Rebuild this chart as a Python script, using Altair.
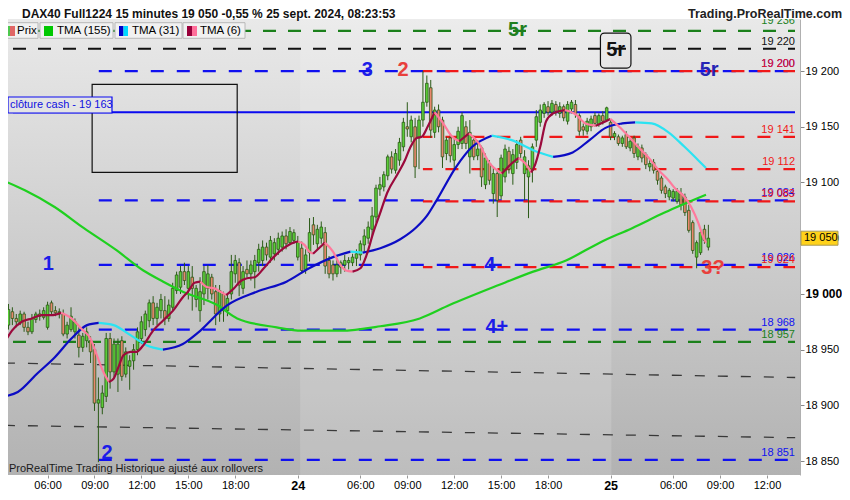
import altair as alt
import pandas as pd

FONT = "Liberation Sans"

# ---------------- candles: 15-minute bars, bar 0 = 23 Sept 03:30 ----------------
OPEN = [18972, 18984, 18978, 18974, 18982, 18970, 18966, 18977, 18982, 18979,
        18970, 18992, 18985, 18983, 18982, 18964, 18968, 18966, 18963, 18952,
        18958, 18958, 18950, 18902, 18898, 18908, 18960, 18930, 18928, 18958,
        18928, 18935, 18940, 18950, 18960, 18968, 18976, 18992, 18978, 18985,
        18985, 18978, 18988, 19003, 19006, 19020, 19005, 19015, 18995, 18985,
        19000, 19005, 19015, 19002, 18982, 19000, 18985, 19000, 19018, 19028,
        19005, 19022, 19018, 19020, 19028, 19030, 19042, 19033, 19036, 19040,
        19042, 19052, 19046, 19048,
        19033, 19041, 19022, 19037, 19062, 19045, 19050, 19055, 19030, 19026,
        19018, 19024, 19026, 19028, 19028, 19032, 19035, 19044, 19050, 19058,
        19069, 19094, 19096, 19106, 19123, 19111, 19120, 19132, 19150, 19141,
        19150, 19140, 19156, 19172, 19185, 19145, 19165, 19156, 19126, 19140,
        19120, 19134, 19135, 19150, 19123, 19138, 19124, 19131, 19098, 19117,
        19090, 19108, 19088, 19105, 19128, 19108, 19118, 19138, 19108, 19105,
        19111, 19138, 19154, 19162, 19168, 19163, 19170, 19162, 19168, 19155,
        19166, 19170, 19160, 19150, 19146, 19150, 19160, 19152, 19160, 19156,
        19154, 19141, 19141, 19135, 19143, 19131, 19140, 19123, 19131, 19125,
        19114, 19118, 19110, 19104, 19096, 19087, 19086, 19083, 19090, 19087,
        19075, 19064, 19033, 19037, 19058, 19042]
HIGH = [18991, 18988, 18982, 18985, 18984, 18975, 18982, 18984, 18986, 18988,
        18993, 18994, 18989, 18987, 18986, 18975, 18988, 18978, 18970, 18965,
        18970, 18962, 18955, 18925, 18918, 18965, 18965, 18960, 18960, 18962,
        18952, 18945, 18955, 18970, 18980, 18985, 18995, 18998, 18992, 19000,
        18998, 18995, 19010, 19020, 19025, 19028, 19025, 19025, 19008, 19015,
        19025, 19026, 19018, 19008, 19008, 19002, 19000, 19035, 19035, 19032,
        19025, 19030, 19030, 19035, 19045, 19048, 19046, 19052, 19050, 19055,
        19056, 19058, 19060, 19058,
        19052, 19047, 19040, 19068, 19069, 19062, 19065, 19060, 19034, 19030,
        19032, 19030, 19035, 19033, 19036, 19040, 19048, 19058, 19065, 19078,
        19098, 19105, 19110, 19125, 19128, 19130, 19140, 19158, 19172, 19160,
        19158, 19160, 19200, 19196, 19192, 19168, 19170, 19159, 19141, 19144,
        19140, 19150, 19163, 19155, 19156, 19142, 19138, 19133, 19126, 19120,
        19114, 19111, 19125, 19134, 19132, 19130, 19138, 19141, 19129, 19120,
        19135, 19165, 19170, 19172, 19173, 19174, 19173, 19172, 19170, 19173,
        19174, 19174, 19162, 19153, 19158, 19160, 19163, 19162, 19164, 19168,
        19157, 19146, 19143, 19142, 19146, 19140, 19142, 19135, 19134, 19127,
        19120, 19121, 19112, 19106, 19098, 19095, 19094, 19095, 19095, 19090,
        19080, 19066, 19048, 19058, 19062, 19062]
LOW = [18968, 18972, 18970, 18972, 18966, 18963, 18964, 18974, 18976, 18977,
       18968, 18982, 18980, 18978, 18962, 18960, 18966, 18960, 18943, 18948,
       18952, 18938, 18895, 18849, 18892, 18903, 18915, 18925, 18912, 18922,
       18925, 18914, 18932, 18945, 18955, 18962, 18970, 18972, 18972, 18978,
       18972, 18975, 18985, 19000, 19000, 19008, 18995, 18985, 18988, 18975,
       18990, 18995, 18995, 18972, 18975, 18975, 18980, 18995, 19010, 18998,
       19000, 19015, 19012, 19005, 19020, 19025, 19030, 19028, 19030, 19035,
       19038, 19040, 19044, 19045,
       19030, 19018, 19018, 19029, 19044, 19040, 19045, 19018, 19014, 19012,
       19015, 19018, 19020, 19022, 19025, 19025, 19030, 19038, 19045, 19052,
       19064, 19088, 19092, 19102, 19108, 19108, 19115, 19128, 19141, 19136,
       19104, 19112, 19150, 19168, 19140, 19140, 19145, 19113, 19120, 19118,
       19112, 19130, 19130, 19130, 19108, 19120, 19120, 19096, 19094, 19098,
       19081, 19069, 19085, 19100, 19108, 19098, 19112, 19122, 19084, 19068,
       19100, 19132, 19150, 19158, 19160, 19160, 19160, 19158, 19155, 19152,
       19162, 19158, 19142, 19142, 19143, 19146, 19150, 19150, 19152, 19155,
       19138, 19138, 19133, 19132, 19130, 19128, 19122, 19120, 19118, 19112,
       19110, 19108, 19098, 19090, 19086, 19084, 19083, 19081, 19075, 19070,
       19055, 19036, 19023, 19035, 19045, 19039]
CLOSE = [18986, 18978, 18975, 18982, 18970, 18966, 18978, 18982, 18980, 18985,
         18990, 18984, 18983, 18984, 18964, 18972, 18980, 18975, 18952, 18962,
         18966, 18948, 18902, 18905, 18911, 18960, 18930, 18955, 18955, 18926,
         18948, 18940, 18950, 18966, 18975, 18982, 18992, 18978, 18988, 18995,
         18978, 18990, 19005, 19017, 19020, 19012, 19020, 19005, 19005, 19002,
         19020, 19018, 19000, 18982, 19003, 18985, 18996, 19020, 19030, 19008,
         19020, 19018, 19026, 19030, 19040, 19042, 19035, 19048, 19046, 19050,
         19052, 19045, 19056, 19055,
         19047, 19021, 19035, 19055, 19053, 19058, 19060, 19025, 19018, 19018,
         19026, 19028, 19030, 19030, 19033, 19036, 19045, 19052, 19060, 19070,
         19095, 19098, 19107, 19123, 19112, 19126, 19136, 19154, 19148, 19156,
         19114, 19156, 19172, 19189, 19147, 19165, 19150, 19123, 19138, 19124,
         19134, 19146, 19160, 19135, 19145, 19123, 19130, 19105, 19122, 19102,
         19108, 19084, 19122, 19130, 19112, 19125, 19134, 19126, 19123, 19115,
         19132, 19159, 19165, 19170, 19163, 19171, 19164, 19168, 19158, 19170,
         19172, 19162, 19146, 19147, 19155, 19157, 19153, 19160, 19155, 19167,
         19141, 19144, 19135, 19140, 19132, 19137, 19126, 19132, 19122, 19116,
         19117, 19111, 19102, 19093, 19090, 19093, 19092, 19092, 19080, 19073,
         19057, 19039, 19046, 19055, 19048, 19050]

# ---------------- moving averages ----------------
TMA155_K = [-0.9, 4.2, 11.8, 19.3, 27.7, 34.5, 39.6, 44.6, 53.4, 58.5, 68.6, 74.9,
            85.0, 95.1, 105.2, 112.8, 125.4, 134.2, 142.6, 151.2, 159.5, 167.8, 178.4]
TMA155_P = [19101, 19093, 19078, 19059, 19039, 19021, 19011, 19002, 18990, 18978, 18970, 18967,
            18967, 18971, 18978, 18990, 19008, 19020, 19030, 19046, 19059, 19073, 19089]

TMA31_K = [-0.9, 2.4, 7.5, 11.8, 16.1, 20.1, 23.1,
           23.1, 26.9, 31.2, 35.3, 39.5,
           39.5, 44.6, 48.4, 56.0, 63.5, 71.1, 76.9, 83.0, 87.5,
           87.5, 90.6,
           90.6, 95.1, 100.2, 104.4, 107.0, 109.5, 114.5, 118.6, 123.6,
           123.6, 128.7, 134.2, 139.3,
           139.3, 144.3, 148.6, 152.7, 157.0, 160.3,
           160.3, 164.5, 168.8, 172.9, 176.4, 178.4]
TMA31_P = [18908, 18912, 18929, 18943, 18960, 18972, 18974,
           18974, 18972, 18963, 18954, 18950,
           18950, 18955, 18965, 18990, 19002, 19011, 19023, 19033, 19038,
           19038, 19037,
           19037, 19041, 19049, 19060, 19070, 19084, 19114, 19132, 19142,
           19142, 19138, 19129, 19123,
           19123, 19127, 19138, 19149, 19153, 19154,
           19154, 19153, 19145, 19132, 19120, 19113]
TMA31_DIR = (["up"] * 7 + ["down"] * 5 + ["up"] * 9 + ["down"] * 2 +
             ["up"] * 9 + ["down"] * 4 + ["up"] * 6 + ["down"] * 6)

TMA6_K = [-0.9, 0.9, 3.4, 6.0, 8.5, 11.0, 13.5,
          13.5, 16.1, 18.6, 21.1, 22.6, 24.4, 25.7,
          25.7, 26.9, 28.2, 29.4, 31.2, 32.7, 34.5, 37.0, 39.5, 42.1, 44.6, 45.9, 47.6, 49.1,
          49.1, 50.9, 52.7, 54.2, 55.7,
          55.7, 57.7, 59.2, 61.0, 63.0, 65.3, 67.8, 70.4, 72.9, 74.1,
          74.1, 75.7, 76.9, 77.9,
          77.9, 79.4, 80.9,
          80.9, 83.0, 84.5, 86.3, 88.0,
          88.0, 90.0, 91.6, 93.3, 95.1, 96.9, 99.6, 101.4, 102.7, 104.4, 105.7, 107.2, 109.0,
          109.0, 111.0, 113.5, 115.3,
          115.3, 117.8,
          117.8, 120.3, 122.9, 126.2,
          126.2, 128.7, 130.5,
          130.5, 132.2, 133.7,
          133.7, 134.7, 136.0, 137.5, 139.3, 142.3,
          142.3, 145.1, 147.6, 150.2,
          150.2, 152.2, 153.9,
          153.9, 156.2, 158.7, 161.3, 163.8, 166.3, 168.8, 170.4, 172.9, 174.6, 176.4, 177.7, 178.4]
TMA6_P = [18957, 18967, 18975, 18978, 18981, 18981, 18983,
          18983, 18978, 18969, 18959, 18945, 18929, 18921,
          18921, 18924, 18935, 18945, 18948, 18948, 18954, 18967, 18976, 18985, 18997, 19002, 19010, 19011,
          19011, 19006, 19005, 19002, 18999,
          18999, 19005, 19011, 19014, 19015, 19023, 19033, 19041, 19046, 19047,
          19047, 19044, 19038, 19036,
          19036, 19041, 19046,
          19046, 19038, 19028, 19021, 19020,
          19020, 19023, 19035, 19055, 19073, 19091, 19108, 19120, 19131, 19140, 19141, 19150, 19163,
          19163, 19154, 19141, 19137,
          19137, 19144,
          19144, 19135, 19118, 19108,
          19108, 19117, 19122,
          19122, 19117, 19109,
          19109, 19116, 19132, 19155, 19162, 19165,
          19165, 19161, 19153, 19151,
          19151, 19154, 19157,
          19157, 19150, 19141, 19131, 19122, 19111, 19102, 19095, 19087, 19078, 19064, 19051, 19046]
TMA6_DIR = (["up"] * 7 + ["down"] * 7 + ["up"] * 14 + ["down"] * 5 + ["up"] * 10 +
            ["down"] * 4 + ["up"] * 3 + ["down"] * 5 + ["up"] * 13 + ["down"] * 4 +
            ["up"] * 2 + ["down"] * 4 + ["up"] * 3 + ["down"] * 3 + ["up"] * 6 +
            ["down"] * 4 + ["up"] * 3 + ["down"] * 13)

# ---------------- drawn levels ----------------
BLUE_LEVELS = [19200, 19084, 19026, 18968, 18851]
BLUE_FROM = 23.1
RED_LEVELS = [19200, 19141, 19112, 19083, 19024]
RED_FROM = 106.0
GREEN_LEVELS = [19236, 18957]
BLACK_LEVELS = [19220]
CASH_CLOSE = 19163
TREND_K = [-0.9, 201.2]
TREND_UPPER = [18938, 18925]
TREND_LOWER = [18882, 18871]
BOX_K = [21.4, 58.5]
BOX_P = [19109, 19188]
TAG_BOX_K = [151.4, 159.2]
TAG_BOX_P = [19202.7, 19234.1]
LAST_PRICE = 19050

ANNOT_TEXT = ["1", "2", "3", "2", "4", "4+", "5r", "5r", "5r", "3?"]
ANNOT_K = [10.2, 25.2, 91.8, 100.9, 123.1, 124.9, 130.2, 155.3, 179.2, 180.2]
ANNOT_P = [19027, 18857, 19201, 19201, 19026, 18970, 19237, 19219, 19201, 19023]
ANNOT_KIND = ["wave", "wave", "wave", "target", "wave", "wave", "green", "box", "blue5", "target"]

XTICK_K = [10, 22, 34, 46, 58, 74, 90, 102, 114, 126, 138, 154, 170, 182, 194]
XTICK_LABELS = ["06:00", "09:00", "12:00", "15:00", "18:00", "24", "06:00", "09:00",
                "12:00", "15:00", "18:00", "25", "06:00", "09:00", "12:00"]
YTICKS = [18850, 18900, 18950, 19000, 19050, 19100, 19150, 19200]
DAY24_K = [74.6, 154.2]

# ---------------- layout ----------------
W, H = 792, 456
X_DOMAIN = [1.16, 201.16]
Y_DOMAIN = [18837.5, 19246.7]
xs = alt.Scale(domain=X_DOMAIN, nice=False, zero=False)
ys = alt.Scale(domain=Y_DOMAIN, nice=False, zero=False)

BIG = "datum.value == 74 || datum.value == 154"
x_expr = "''"
for kk, lab in reversed(list(zip(XTICK_K, XTICK_LABELS))):
    x_expr = f"datum.value == {kk} ? '{lab}' : {x_expr}"
X_AXIS = alt.Axis(
    values=XTICK_K, labelExpr=x_expr, orient="bottom", domain=False, ticks=True,
    tickSize=3, tickColor="#999", grid=False, title=None, labelFont=FONT,
    labelColor="#000", labelPadding=1, labelOverlap=False, labelFlush=False,
    labelFontSize={"condition": {"test": BIG, "value": 12.5}, "value": 11},
    labelFontWeight={"condition": {"test": BIG, "value": "bold"}, "value": "normal"})
Y_AXIS = alt.Axis(
    values=YTICKS, orient="right", labelExpr="replace(format(datum.value, ','), ',', ' ')",
    tickSize=4, tickColor="#888", domain=True, domainColor="#b0b0b0", grid=False,
    title=None, labelFont=FONT, labelColor="#000", labelPadding=1, labelOverlap=False,
    labelFontSize={"condition": {"test": "datum.value == 19000", "value": 12}, "value": 11},
    labelFontWeight={"condition": {"test": "datum.value == 19000", "value": "bold"},
                     "value": "normal"})


def X(f):
    return alt.X(f, type="quantitative", scale=xs, axis=X_AXIS)


def Y(f):
    return alt.Y(f, type="quantitative", scale=ys, axis=Y_AXIS)


def fmt(v):
    return f"{v:,}".replace(",", " ")


dummy = pd.DataFrame({"d": [0]})


def prect(x0, x1, y0, y1, **kw):
    return alt.Chart(dummy).mark_rect(**kw).encode(
        x=alt.value(x0), x2=alt.value(x1), y=alt.value(y0), y2=alt.value(y1))


def ptext(x, y, text, size=11, weight="normal", color="#000", align="left", clip=False):
    return alt.Chart(dummy).mark_text(
        text=text, font=FONT, fontSize=size, fontWeight=weight, color=color,
        align=align, baseline="middle", clip=clip).encode(x=alt.value(x), y=alt.value(y))


layers = []

# background
layers.append(prect(0, W, 0, H, fill=alt.Gradient(
    gradient="linear",
    stops=[alt.GradientStop(color="#e9e9e9", offset=0),
           alt.GradientStop(color="#b2b2b2", offset=1)],
    x1=0, x2=0, y1=0, y2=1)))
layers.append(alt.Chart(pd.DataFrame({"k0": [DAY24_K[0]], "k1": [DAY24_K[1]]}))
              .mark_rect(fill="white", opacity=0.15, clip=True)
              .encode(x=X("k0"), x2="k1", y=alt.value(0), y2=alt.value(H)))

# trend lines
trend = pd.DataFrame({"k0": [TREND_K[0]] * 2, "k1": [TREND_K[1]] * 2,
                      "p0": [TREND_UPPER[0], TREND_LOWER[0]],
                      "p1": [TREND_UPPER[1], TREND_LOWER[1]]})
layers.append(alt.Chart(trend).mark_rule(color="#222", strokeWidth=1.3, opacity=0.85,
                                         strokeDash=[10, 13], clip=True)
              .encode(x=X("k0"), x2="k1", y=Y("p0"), y2="p1"))


def level_rules(levels, start, color, dash, width=2.2, offset=0):
    df = pd.DataFrame({"p": levels})
    df["k0"] = start
    df["k1"] = X_DOMAIN[1]
    return alt.Chart(df).mark_rule(color=color, strokeWidth=width, strokeDash=dash,
                                   strokeDashOffset=offset, clip=True).encode(
        x=X("k0"), x2="k1", y=Y("p"))


layers.append(level_rules(GREEN_LEVELS, X_DOMAIN[0], "#1b801b", [13, 12]))
layers.append(level_rules(BLACK_LEVELS, X_DOMAIN[0], "#111111", [13, 12]))
layers.append(level_rules(BLUE_LEVELS, BLUE_FROM, "#1010f0", [13, 13]))
layers.append(level_rules(RED_LEVELS, RED_FROM, "#f01818", [13, 13], offset=3.5))
layers.append(level_rules([CASH_CLOSE], X_DOMAIN[0], "#0a0af0", [1, 0], width=2))

# drawn rectangle and boxed 5r
layers.append(alt.Chart(pd.DataFrame({"k0": [BOX_K[0]], "k1": [BOX_K[1]],
                                      "p0": [BOX_P[0]], "p1": [BOX_P[1]]}))
              .mark_rect(fillOpacity=0, stroke="#111", strokeWidth=1.2)
              .encode(x=X("k0"), x2="k1", y=Y("p0"), y2="p1"))
layers.append(alt.Chart(pd.DataFrame({"k0": [TAG_BOX_K[0]], "k1": [TAG_BOX_K[1]],
                                      "p0": [TAG_BOX_P[0]], "p1": [TAG_BOX_P[1]]}))
              .mark_rect(fillOpacity=0, stroke="#111", strokeWidth=1.2, cornerRadius=4)
              .encode(x=X("k0"), x2="k1", y=Y("p0"), y2="p1"))

# candles
candles = pd.DataFrame({"k": list(range(len(OPEN))), "open": OPEN, "high": HIGH,
                        "low": LOW, "close": CLOSE})
WICK = "#2b5a17"
layers.append(alt.Chart(candles).mark_rule(color=WICK, strokeWidth=1, clip=True).encode(
    x=X("k"), y=Y("low"), y2="high"))
layers.append(alt.Chart(candles).mark_bar(size=2.6, stroke=WICK, strokeWidth=0.8, clip=True).encode(
    x=X("k"), y=Y("open"), y2="close",
    color=alt.condition("datum.close >= datum.open", alt.value("#5acd38"), alt.value("#e9876e"))))


# moving averages
def runs_df(ks, ps, dirs, colors):
    rows, run, prev = [], 0, None
    for kk, pp, dd in zip(ks, ps, dirs):
        if prev is not None and dd != prev:
            run += 1
        rows.append({"k": kk, "p": pp, "run": run, "col": colors[dd]})
        prev = dd
    return pd.DataFrame(rows)


tma155 = pd.DataFrame({"k": TMA155_K, "p": TMA155_P})
layers.append(alt.Chart(tma155).mark_line(color="#1fd01f", strokeWidth=2.2,
                                          interpolate="monotone", clip=True)
              .encode(x=X("k"), y=Y("p")))
tma31 = runs_df(TMA31_K, TMA31_P, TMA31_DIR, {"up": "#0c0cc4", "down": "#2be3f2"})
layers.append(alt.Chart(tma31).mark_line(strokeWidth=2.2, interpolate="monotone", clip=True)
              .encode(x=X("k"), y=Y("p"), detail="run:N", color=alt.Color("col:N", scale=None)))
tma6 = runs_df(TMA6_K, TMA6_P, TMA6_DIR, {"up": "#9b0a3c", "down": "#ff7a9c"})
layers.append(alt.Chart(tma6).mark_line(strokeWidth=2.2, interpolate="monotone", clip=True)
              .encode(x=X("k"), y=Y("p"), detail="run:N", color=alt.Color("col:N", scale=None)))

# annotations
KIND_COLOR = {"wave": "#1c1ce8", "target": "#e8403c", "green": "#1f7f1f",
              "box": "#111111", "blue5": "#2525b5"}
ann = pd.DataFrame({"k": ANNOT_K, "p": ANNOT_P, "t": ANNOT_TEXT,
                    "col": [KIND_COLOR[c] for c in ANNOT_KIND]})
layers.append(alt.Chart(ann).mark_text(font=FONT, fontSize=20, fontWeight="bold",
                                       align="center", baseline="middle")
              .encode(x=X("k"), y=Y("p"), text="t:N", color=alt.Color("col:N", scale=None)))


def level_labels(levels, color, dy=-7):
    df = pd.DataFrame({"p": levels, "t": [fmt(v) for v in levels]})
    return alt.Chart(df).mark_text(font=FONT, fontSize=11, align="right", baseline="middle",
                                   dy=dy, color=color, clip=True).encode(
        x=alt.value(787), y=Y("p"), text="t:N")


layers.append(level_labels(GREEN_LEVELS[:1], "#1b801b", dy=-10))
layers.append(level_labels(GREEN_LEVELS[1:], "#1b801b"))
layers.append(level_labels(BLACK_LEVELS, "#111111"))
layers.append(level_labels(BLUE_LEVELS, "#1010f0"))
layers.append(level_labels(RED_LEVELS, "#f01818"))

# cash close label
layers.append(prect(0, 104, 78, 94, fill="#e4e4e4", stroke="#0a0af0", strokeWidth=1.2))
layers.append(ptext(2, 86, f"clôture cash -  {fmt(CASH_CLOSE)}", size=11, color="#1010e0"))

# legend row
for (bx0, bx1) in [(-5, 30), (32, 105), (107, 174), (175, 237)]:
    layers.append(prect(bx0, bx1, 3.7, 19.3, fill="#f1f1f1", stroke="#b8b8b8", strokeWidth=1))
layers.append(prect(-3, 2, 7, 17, fill="#4dc84d"))
layers.append(prect(2, 7, 7, 17, fill="#e06666"))
layers.append(prect(36, 45, 7, 17, fill="#00c800"))
layers.append(prect(111, 115.5, 7, 17, fill="#0000c8"))
layers.append(prect(115.5, 120, 7, 17, fill="#00d8ff"))
layers.append(prect(179, 184, 7, 17, fill="#99003a"))
layers.append(prect(184, 189, 7, 17, fill="#ff6f9a"))
layers.append(ptext(9, 11.5, "Prix", size=11.5))
layers.append(ptext(49, 11.5, "TMA (155)", size=11.5))
layers.append(ptext(124, 11.5, "TMA (31)", size=11.5))
layers.append(ptext(192, 11.5, "TMA (6)", size=11.5))

# header / footer texts
layers.append(ptext(14, -5.5, "DAX40 Full1224 15 minutes 19 050 -0,55 % 25 sept. 2024, 08:23:53",
                    size=12, weight="bold", color="#111"))
layers.append(ptext(834, -5.5, "Trading.ProRealTime.com", size=12.5, weight="bold",
                    color="#222", align="right"))
layers.append(ptext(1, 450, "ProRealTime Trading Historique ajusté aux rollovers",
                    size=11, color="#1a1a1a"))

# last price tag
tag = pd.DataFrame({"p0": [LAST_PRICE + 6.3], "p1": [LAST_PRICE - 6.3], "p": [LAST_PRICE],
                    "t": [fmt(LAST_PRICE)]})
layers.append(alt.Chart(tag).mark_rect(fill="#ffd21a", stroke="#a89a5a", strokeWidth=1)
              .encode(x=alt.value(793), x2=alt.value(830), y=Y("p0"), y2="p1"))
layers.append(alt.Chart(tag).mark_text(font=FONT, fontSize=11, align="left", baseline="middle",
                                       color="#000")
              .encode(x=alt.value(796), y=Y("p"), text="t:N"))

chart = alt.layer(*layers).properties(
    width=W, height=H,
    padding={"left": 0, "top": 11, "right": 42, "bottom": 17},
    autosize=alt.AutoSizeParams(type="none"),
).configure_view(strokeWidth=0)

chart.save("out.html", embed_options={"renderer": "svg", "actions": False})
